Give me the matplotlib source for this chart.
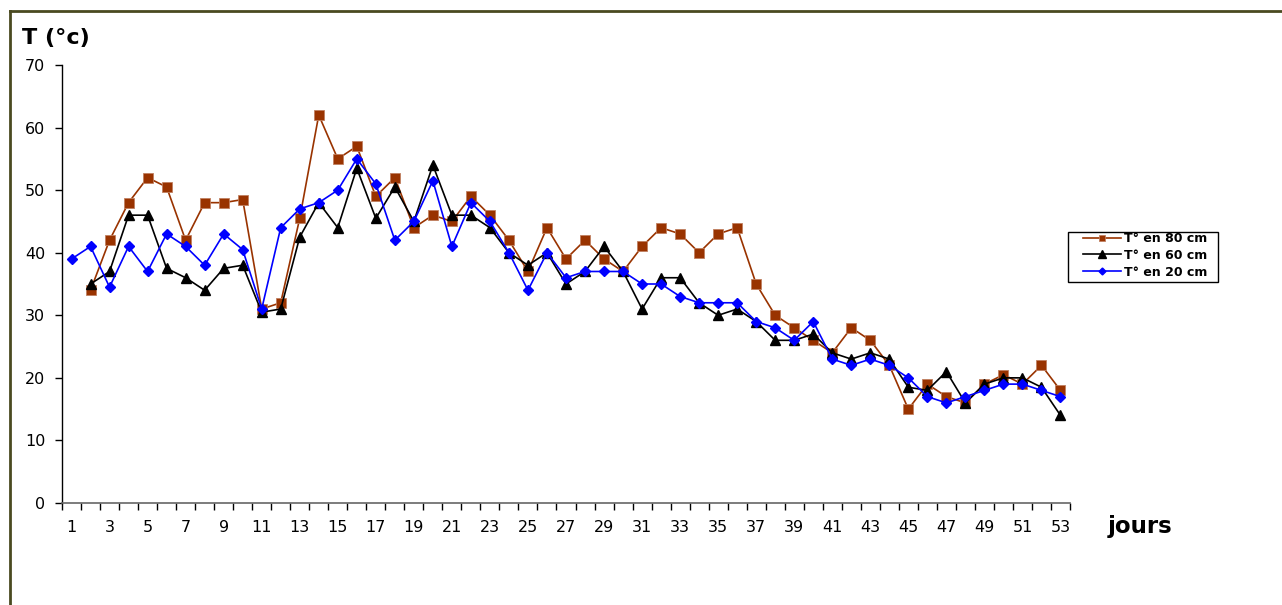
import matplotlib
matplotlib.use("Agg")
import matplotlib.pyplot as plt
from matplotlib.lines import Line2D
from matplotlib.patches import Rectangle
import numpy as np

plt.rcParams['font.family'] = ['DejaVu Sans']

days = list(range(1, 54))

# T° en 80 cm (starts day 2)
t80 = [np.nan, 34, 42, 48, 52, 50.5, 42, 48, 48, 48.5,
       31, 32, 45.5, 62, 55, 57, 49, 52, 44, 46,
       45, 49, 46, 42, 37, 44, 39, 42, 39, 37,
       41, 44, 43, 40, 43, 44, 35, 30, 28, 26,
       24, 28, 26, 22, 15, 19, 17, 16, 19, 20.5,
       19, 22, 18]
# T° en 60 cm (starts day 2)
t60 = [np.nan, 35, 37, 46, 46, 37.5, 36, 34, 37.5, 38,
       30.5, 31, 42.5, 48, 44, 53.5, 45.5, 50.5, 45, 54,
       46, 46, 44, 40, 38, 40, 35, 37, 41, 37,
       31, 36, 36, 32, 30, 31, 29, 26, 26, 27,
       24, 23, 24, 23, 18.5, 18, 21, 16, 19, 20,
       20, 18.5, 14]
# T° en 20 cm
t20 = [39, 41, 34.5, 41, 37, 43, 41, 38, 43, 40.5,
       31, 44, 47, 48, 50, 55, 51, 42, 45, 51.5,
       41, 48, 45, 40, 34, 40, 36, 37, 37, 37,
       35, 35, 33, 32, 32, 32, 29, 28, 26, 29,
       23, 22, 23, 22, 20, 17, 16, 17, 18, 19,
       19, 18, 17]

W, H = 1282, 605
fig = plt.figure(figsize=(W / 100, H / 100), dpi=100)
ax = fig.add_axes([62 / W, 102 / H, 1008 / W, 438 / H])

ax.plot(days, t80, color='#993300', lw=1.2, marker='s', ms=7,
        mfc='#993300', mec='#c08060', mew=0.6, label='T° en 80 cm')
ax.plot(days, t60, color='black', lw=1.2, marker='^', ms=7.5,
        mfc='black', mec='black', label='T° en 60 cm')
ax.plot(days, t20, color='#0000ff', lw=1.2, marker='D', ms=5,
        mfc='#0000ff', mec='#0000ff', label='T° en 20 cm')

ax.set_xlim(0.5, 53.5)
ax.set_ylim(0, 70)
ax.set_yticks(range(0, 71, 10))
ax.set_xticks(np.arange(0.5, 54, 1))
ax.set_xticklabels([])
ax.set_xticks(range(1, 54, 2), minor=True)
ax.set_xticklabels([str(d) for d in range(1, 54, 2)], minor=True)
ax.tick_params(axis='x', which='minor', length=0, pad=12, labelsize=11.5)
ax.tick_params(axis='x', which='major', length=5, width=1, direction='out')
ax.tick_params(axis='y', length=5, width=1, direction='out', labelsize=11.5, pad=7)

for s in ('top', 'right'):
    ax.spines[s].set_visible(False)
ax.spines['left'].set_linewidth(1)
ax.spines['bottom'].set_color('#666666')
ax.spines['bottom'].set_linewidth(1.2)

fig.text(22 / W, 1 - 38 / H, 'T (°c)', fontsize=16, fontweight='bold',
         va='center', ha='left')
fig.text(1108 / W, 1 - 527 / H, 'jours', fontsize=16.5, fontweight='bold',
         va='center', ha='left')

# legend without its own frame, box drawn separately
leg = ax.legend(loc='upper left', bbox_to_anchor=(1083 / W, 1 - 232 / H),
                bbox_transform=fig.transFigure, frameon=False,
                prop={'size': 9, 'weight': 'bold'},
                handlelength=3.0, handletextpad=0.3, borderpad=0,
                labelspacing=0.3, markerscale=0.7, borderaxespad=0)
fig.add_artist(Rectangle((1068 / W, 1 - 282 / H), 150 / W, 50 / H,
                         transform=fig.transFigure, fill=False,
                         edgecolor='black', lw=1))

# outer frame
fig.add_artist(Line2D([10 / W, 10 / W], [0, 1 - 11 / H],
                      transform=fig.transFigure, color='#4a4a20', lw=2))
fig.add_artist(Line2D([10 / W, 1], [1 - 11 / H, 1 - 11 / H],
                      transform=fig.transFigure, color='#4a4a20', lw=2))

fig.savefig('out.png', dpi=100)
